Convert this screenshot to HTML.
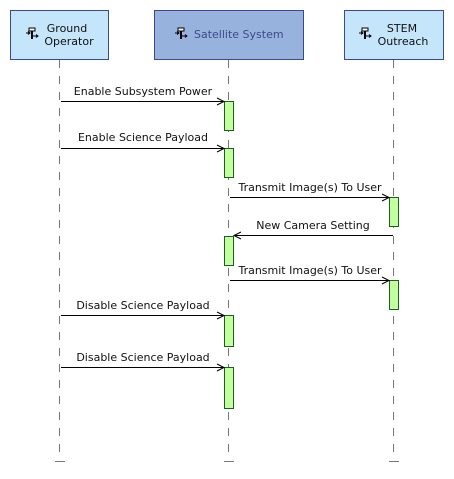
<!DOCTYPE html>
<html><head><style>body{margin:0;background:#fff}svg{display:block}text{font-family:"DejaVu Sans","Liberation Sans",sans-serif;font-size:11px;fill:#111}</style></head>
<body>
<svg width="454" height="479" viewBox="0 0 454 479" xmlns="http://www.w3.org/2000/svg">
<defs>
<g id="ic" stroke="#000" fill="none" stroke-width="1">
<rect x="3" y="0" width="6" height="3" fill="#fff"/>
<line x1="6" y1="3" x2="6" y2="11" stroke-width="2"/>
<line x1="0" y1="5" x2="4" y2="5"/><path d="M2 3.5 L4 5 L2 6.5"/>
<line x1="7" y1="8" x2="12" y2="8"/><path d="M10 6.5 L12 8 L10 9.5"/>
</g>
</defs>
<g stroke="#777" stroke-dasharray="8,8" stroke-width="1">
<line x1="59.5" y1="60" x2="59.5" y2="456"/>
<line x1="228.5" y1="60" x2="228.5" y2="456"/>
<line x1="393.5" y1="60" x2="393.5" y2="456"/>
</g>
<g stroke="#777"><line x1="55" y1="461.5" x2="65" y2="461.5"/><line x1="224" y1="461.5" x2="234" y2="461.5"/><line x1="389" y1="461.5" x2="399" y2="461.5"/></g>
<rect x="10.5" y="10.5" width="98" height="49" fill="#c5e5fb" stroke="#3c4a8a"/>
<rect x="154.5" y="10.5" width="149" height="49" fill="#97b3dd" stroke="#3c4a8a"/>
<rect x="344.5" y="10.5" width="99" height="49" fill="#c5e5fb" stroke="#3c4a8a"/>
<use href="#ic" x="26" y="28"/><use href="#ic" x="175" y="28"/><use href="#ic" x="359" y="28"/>
<text x="67" y="32" text-anchor="middle">Ground</text><text x="69" y="45" text-anchor="middle">Operator</text>
<text x="194" y="38" style="fill:#3c4a8a">Satellite System</text>
<text x="402" y="32" text-anchor="middle">STEM</text><text x="403" y="45" text-anchor="middle">Outreach</text>
<g fill="#c1ff9f" stroke="#1b5e20">
<rect x="224.5" y="101.5" width="9" height="29"/>
<rect x="224.5" y="148.5" width="9" height="29"/>
<rect x="389.5" y="197.5" width="9" height="29"/>
<rect x="224.5" y="236.5" width="9" height="29"/>
<rect x="389.5" y="280.5" width="9" height="29"/>
<rect x="224.5" y="315.5" width="9" height="31"/>
<rect x="224.5" y="367.5" width="9" height="41"/>
</g>
<g stroke="#000" fill="none">
<line x1="61" y1="101.5" x2="224" y2="101.5"/><path d="M217 98 L224 101.5 L217 105"/>
<line x1="61" y1="148.5" x2="224" y2="148.5"/><path d="M217 145 L224 148.5 L217 152"/>
<line x1="230" y1="197.5" x2="389" y2="197.5"/><path d="M382 194 L389 197.5 L382 201"/>
<line x1="234" y1="235.5" x2="393" y2="235.5"/><path d="M241 232 L234 235.5 L241 239"/>
<line x1="230" y1="280.5" x2="389" y2="280.5"/><path d="M382 277 L389 280.5 L382 284"/>
<line x1="61" y1="315.5" x2="224" y2="315.5"/><path d="M217 312 L224 315.5 L217 319"/>
<line x1="61" y1="367.5" x2="224" y2="367.5"/><path d="M217 364 L224 367.5 L217 371"/>
</g>
<text x="143" y="95" text-anchor="middle">Enable Subsystem Power</text>
<text x="143" y="141" text-anchor="middle">Enable Science Payload</text>
<text x="310" y="191" text-anchor="middle">Transmit Image(s) To User</text>
<text x="313" y="229" text-anchor="middle">New Camera Setting</text>
<text x="310" y="274" text-anchor="middle">Transmit Image(s) To User</text>
<text x="143" y="309" text-anchor="middle">Disable Science Payload</text>
<text x="143" y="361" text-anchor="middle">Disable Science Payload</text>
</svg>
</body></html>
